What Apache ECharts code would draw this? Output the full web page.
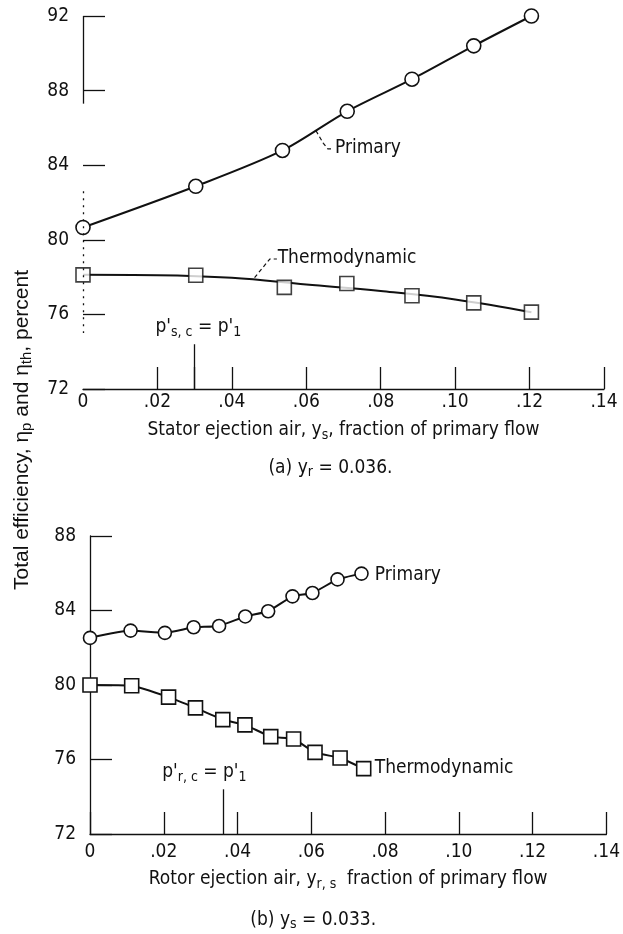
<!DOCTYPE html>
<html><head><meta charset="utf-8">
<script src="https://cdn.jsdelivr.net/npm/echarts@6/dist/echarts.min.js"></script>
<style>html,body{margin:0;padding:0;background:#fff}#c{width:623px;height:934px}</style>
</head><body><div id="c"></div>
<script>
// ---- data ----
const xTickLabels = ['0', '.02', '.04', '.06', '.08', '.10', '.12', '.14'];
const xTickValuesA = [0.02, 0.03, 0.04, 0.06, 0.08, 0.10, 0.12, 0.14];
// panel (a): y_r = 0.036
const aPrimaryX = [0, 0.0303, 0.0536, 0.0710, 0.0884, 0.1050, 0.1205];
const aPrimaryY = [80.66, 82.87, 84.79, 86.89, 88.61, 90.40, 92.0];
const aThermoX = [0, 0.0303, 0.0541, 0.0709, 0.0884, 0.1050, 0.1205];
const aThermoY = [78.12, 78.10, 77.45, 77.66, 77.00, 76.62, 76.12];
const aThermoCurveX = [0, 0.02, 0.04, 0.06, 0.08, 0.10, 0.1205];
const aThermoCurveY = [78.12, 78.10, 77.96, 77.60, 77.25, 76.80, 76.12];
// panel (b): y_s = 0.033
const bPrimaryX = [0, 0.0110, 0.0203, 0.0281, 0.0350, 0.0421, 0.0483, 0.0549, 0.0603, 0.0671, 0.0736];
const bPrimaryY = [82.53, 82.92, 82.80, 83.10, 83.17, 83.68, 83.96, 84.76, 84.94, 85.67, 85.98];
const bThermoX = [0, 0.0113, 0.0213, 0.0286, 0.0360, 0.0420, 0.0490, 0.0552, 0.0610, 0.0678, 0.0742];
const bThermoY = [80.00, 79.96, 79.35, 78.77, 78.14, 77.86, 77.23, 77.10, 76.38, 76.08, 75.51];
// design-point markers (p'_c = p'_1)
const aMarkerX = 0.030;
const bMarkerX = 0.036;

const F = "'DejaVu Sans Condensed', 'Liberation Sans Narrow', sans-serif";
const FR = "'Liberation Sans', Arial, sans-serif";
const FS = 19;
const BLACK = '#111';

const zip = (xs, ys) => xs.map((x, i) => [x, ys[i]]);
const sub = { fontFamily: F, fontSize: 14, padding: [9, 0, 0, 0], color: BLACK };
const norm = { fontFamily: F, fontSize: FS, color: BLACK };

function xAxisCfg(gi, name, gap, lblMargin, tickVals) {
  const tick = { inside: true, length: 22, lineStyle: { color: BLACK, width: 1.3 } };
  if (tickVals) tick.customValues = tickVals;
  return {
    type: 'value', gridIndex: gi, min: 0, max: 0.14, interval: 0.02,
    axisLine: { lineStyle: { color: BLACK, width: 1.3 } },
    axisTick: tick,
    splitLine: { show: false },
    axisLabel: { color: BLACK, fontFamily: F, fontSize: FS, margin: lblMargin,
      formatter: v => xTickLabels[Math.round(v / 0.02)] },
    name: name, nameLocation: 'middle', nameGap: gap,
    nameTextStyle: { fontFamily: F, fontSize: FS, color: BLACK, rich: { n: norm, sub: sub } }
  };
}
function yAxisCfg(gi, max, showLine) {
  return {
    type: 'value', gridIndex: gi, min: 72, max: max, interval: 4,
    axisLine: { show: showLine, lineStyle: { color: BLACK, width: 1.3 } },
    axisTick: { inside: true, length: 22, lineStyle: { color: BLACK, width: 1.3 } },
    splitLine: { show: false },
    axisLabel: { color: BLACK, fontFamily: F, fontSize: FS, margin: 14 }
  };
}
const sym = (shape, size) => ({
  symbol: shape, symbolSize: size, showAllSymbol: true,
  itemStyle: { color: '#fff', borderColor: BLACK, borderWidth: 1.6 }
});
const lineStyle = { color: BLACK, width: 2 };

const chart = echarts.init(document.getElementById('c'), null, { renderer: 'canvas' });
chart.setOption({
  animation: false,
  backgroundColor: '#fff',
  grid: [
    { left: 83, top: 16, width: 521, height: 373 },
    { left: 90, top: 536, width: 521, height: 298 }
  ],
  xAxis: [
    xAxisCfg(0, '{n|Stator ejection air, y}{sub|s}{n|, fraction of primary flow}', 30, 4, xTickValuesA),
    xAxisCfg(1, '{n|Rotor ejection air, y}{sub|r, s}{n|  fraction of primary flow}', 34, 9, null)
  ],
  yAxis: [yAxisCfg(0, 92, false), yAxisCfg(1, 88, true)],
  series: [
    { name: 'a-primary', type: 'line', xAxisIndex: 0, yAxisIndex: 0, smooth: 0.3,
      data: zip(aPrimaryX, aPrimaryY), lineStyle, ...sym('circle', 14), z: 3,
      markLine: { silent: true, symbol: 'none', label: { show: false },
        lineStyle: { color: BLACK, width: 1.3, type: 'solid' },
        data: [
          [{ coord: [0, 92] }, { coord: [0, 87.3] }],
          [{ coord: [0, 82.6], lineStyle: { type: [2, 5], width: 1.3, color: BLACK } }, { coord: [0, 75.0] }],
          [{ coord: [aMarkerX, 72] }, { coord: [aMarkerX, 74.4] }]
        ] } },
    { name: 'a-thermo-curve', type: 'line', xAxisIndex: 0, yAxisIndex: 0, smooth: 0.4,
      data: zip(aThermoCurveX, aThermoCurveY), symbol: 'none', lineStyle, z: 2 },
    { name: 'a-thermo', type: 'scatter', xAxisIndex: 0, yAxisIndex: 0,
      data: zip(aThermoX, aThermoY), ...sym('rect', 14), z: 4 },
    { name: 'b-primary', type: 'line', xAxisIndex: 1, yAxisIndex: 1, smooth: 0.15,
      data: zip(bPrimaryX, bPrimaryY), lineStyle, ...sym('circle', 13), z: 3,
      markLine: { silent: true, symbol: 'none', label: { show: false },
        lineStyle: { color: BLACK, width: 1.3, type: 'solid' },
        data: [[{ coord: [bMarkerX, 72] }, { coord: [bMarkerX, 74.4] }]] } },
    { name: 'b-thermo', type: 'line', xAxisIndex: 1, yAxisIndex: 1, smooth: 0.15,
      data: zip(bThermoX, bThermoY), lineStyle, ...sym('rect', 14), z: 3 }
  ]
});

// ---- annotations positioned through the chart's own scales ----
const P = (g, x, y) => chart.convertToPixel({ gridIndex: g }, [x, y]);
function txt(g, x, y, text, align) {
  const p = P(g, x, y);
  return { type: 'text', x: p[0], y: p[1], silent: true, z: 10,
    style: { text, textAlign: align, textVerticalAlign: 'middle', fill: BLACK,
      font: FS + 'px ' + F, rich: { n: norm, sub: sub } } };
}
function leader(g, pts) {
  return { type: 'polyline', silent: true, z: 10,
    shape: { points: pts.map(q => P(g, q[0], q[1])) },
    style: { stroke: BLACK, lineWidth: 1.2, lineDash: [4, 3], fill: null } };
}
const capA = P(0, 0.0665, 72); const capB = P(1, 0.0605, 72);
chart.setOption({
  graphic: [
    { type: 'text', x: 22, y: 430, rotation: Math.PI / 2, silent: true,
      style: { text: '{r|Total efficiency, η}{rs|p}{r| and η}{rs|th}{r|, percent}',
        textAlign: 'center', textVerticalAlign: 'middle', fill: BLACK,
        rich: { r: { fontFamily: FR, fontSize: 21, color: BLACK },
                rs: { fontFamily: FR, fontSize: 15, color: BLACK, padding: [10, 0, 0, 0] } } } },
    txt(0, 0.0677, 84.92, '{n|Primary}', 'left'),
    leader(0, [[0.0626, 85.85], [0.0646, 85.17], [0.0658, 84.87], [0.0674, 84.87]]),
    txt(0, 0.0523, 79.02, '{n|Thermodynamic}', 'left'),
    leader(0, [[0.0461, 77.97], [0.0502, 78.97], [0.0521, 78.97]]),
    txt(0, 0.0310, 75.3, "{n|p'}{sub|s, c}{n| = p'}{sub|1}", 'center'),
    txt(1, 0.0772, 85.9, '{n|Primary}', 'left'),
    txt(1, 0.0772, 75.53, '{n|Thermodynamic}', 'left'),
    txt(1, 0.0310, 75.3, "{n|p'}{sub|r, c}{n| = p'}{sub|1}", 'center'),
    { type: 'text', x: capA[0], y: 468, silent: true,
      style: { text: '{n|(a) y}{sub|r}{n| = 0.036.}', textAlign: 'center', textVerticalAlign: 'middle',
        fill: BLACK, rich: { n: norm, sub: sub } } },
    { type: 'text', x: capB[0], y: 920, silent: true,
      style: { text: '{n|(b) y}{sub|s}{n| = 0.033.}', textAlign: 'center', textVerticalAlign: 'middle',
        fill: BLACK, rich: { n: norm, sub: sub } } }
  ]
});
</script></body></html>
